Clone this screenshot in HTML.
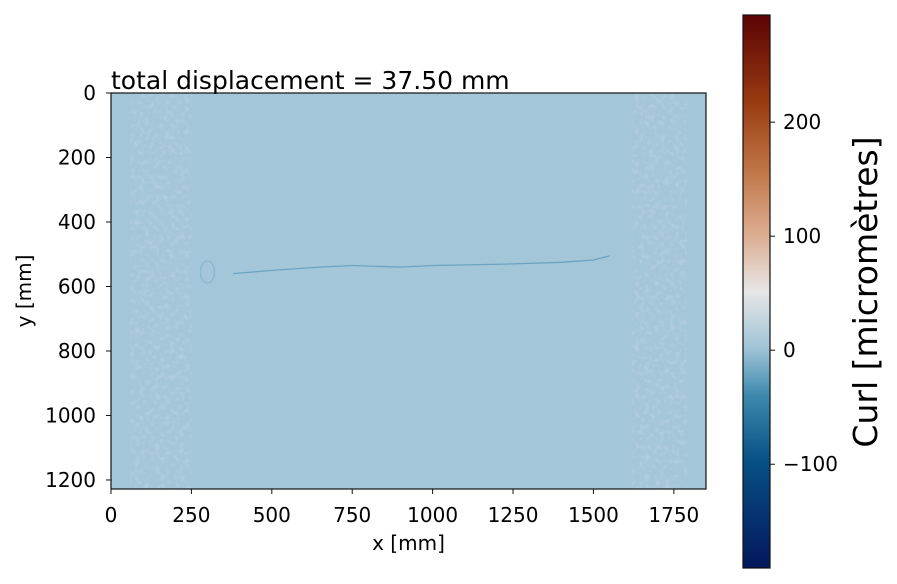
<!DOCTYPE html>
<html><head><meta charset="utf-8"><style>
body{margin:0;background:#fff}
svg{display:block;font-family:"DejaVu Sans","Liberation Sans",sans-serif}
</style></head><body>
<svg width="897" height="584" viewBox="0 0 897 584" id="chart">
<defs>
<linearGradient id="cmap" x1="0" y1="1" x2="0" y2="0">
<stop offset="0" stop-color="#04175c"/>
<stop offset="0.19" stop-color="#064f84"/>
<stop offset="0.31" stop-color="#3c88ad"/>
<stop offset="0.4" stop-color="#a1c5d8"/>
<stop offset="0.5" stop-color="#e7e6e6"/>
<stop offset="0.6" stop-color="#dcae92"/>
<stop offset="0.72" stop-color="#c07546"/>
<stop offset="0.84" stop-color="#993c11"/>
<stop offset="1" stop-color="#5c0205"/>
</linearGradient>
<clipPath id="pc"><rect x="111" y="93" width="595" height="396"/></clipPath>
<filter id="noise" x="0" y="0" width="1" height="1"><feTurbulence type="fractalNoise" baseFrequency="0.2" numOctaves="2" seed="3"/><feColorMatrix values="0 0 0 0 0.72  0 0 0 0 0.83  0 0 0 0 0.89  0 0 0 2 -0.9"/></filter>
</defs>
<g id="plot"></g>
</svg>
<script>
const xTicks=[0,250,500,750,1000,1250,1500,1750];
const yTicks=[0,200,400,600,800,1000,1200];
const cbTicks=[-100,0,100,200];
const crackX=[380,500,650,750,900,1000,1150,1250,1400,1500,1550];
const crackY=[560,550,540,535,540,535,532,530,525,518,505];
const xMax=1850,yMax=1228,cMin=-191,cMax=294;
const L=111,T=93,W=595,H=396;
const sx=v=>L+v/xMax*W, sy=v=>T+v/yMax*H;
const cbL=743,cbT=15,cbW=27,cbH=553;
const sc=v=>cbT+(cMax-v)/(cMax-cMin)*cbH;
const NS="http://www.w3.org/2000/svg";
const g=document.getElementById('plot');
function mk(t,a,txt){const e=document.createElementNS(NS,t);for(const k in a)e.setAttribute(k,a[k]);if(txt!==undefined)e.textContent=txt;g.appendChild(e);return e;}
let e;
e=mk('rect',{x:L,y:T,width:W,height:H,fill:'#a4c6d9'});


e=mk('rect',{x:sx(60),y:T,width:sx(250)-sx(60),height:H,filter:'url(#noise)',opacity:0.3,"clip-path":'url(#pc)'});


e=mk('rect',{x:sx(1620),y:T,width:sx(1790)-sx(1620),height:H,filter:'url(#noise)',opacity:0.3,"clip-path":'url(#pc)'});


let d=crackX.map((v,i)=>(i?'L':'M')+sx(v).toFixed(1)+' '+sy(crackY[i]).toFixed(1)).join(' ');
e=mk('path',{d:d,fill:'none',stroke:'#6aa3c4',"stroke-width":1.3});


e=mk('ellipse',{cx:sx(300),cy:sy(555),rx:7,ry:11,fill:'none',stroke:'#8ab8cf',"stroke-width":1.5});


e=mk('rect',{x:L,y:T,width:W,height:H,fill:'none',stroke:'#111',"stroke-width":1.2});


xTicks.forEach(v=>{const x=sx(v);
 e=mk('line',{x1:x,y1:T+H,x2:x,y2:T+H+5,stroke:'#111'});
 
 
 e=mk('text',{x:x,y:522,"text-anchor":'middle',"font-size":20},v);
 
 });
yTicks.forEach(v=>{const y=sy(v);
 e=mk('line',{x1:L-5,y1:y,x2:L,y2:y,stroke:'#111'});
 
 
 e=mk('text',{x:L-15,y:y+7,"text-anchor":'end',"font-size":20},v);
 
 });
e=mk('text',{x:sx(xMax/2),y:550,"text-anchor":'middle',"font-size":20},'x [mm]');


e=mk('text',{x:0,y:0,"text-anchor":'middle',"font-size":20,transform:'translate(31,291) rotate(-90)'},'y [mm]');


e=mk('text',{x:111,y:89,"font-size":25},'total displacement = 37.50 mm');


e=mk('rect',{x:cbL,y:cbT,width:cbW,height:cbH,fill:'url(#cmap)',stroke:'#111',"stroke-width":1.2});


cbTicks.forEach(v=>{const y=sc(v);
 e=mk('line',{x1:cbL+cbW,y1:y,x2:cbL+cbW+5,y2:y,stroke:'#111'});
 
 
 e=mk('text',{x:cbL+cbW+13,y:y+7,"font-size":20},v<0?'\u2212'+(-v):v);
 
 });
e=mk('text',{x:0,y:0,"text-anchor":'middle',"font-size":33,transform:'translate(877,292) rotate(-90)'},'Curl  [micromètres]');


</script>
</body></html>
